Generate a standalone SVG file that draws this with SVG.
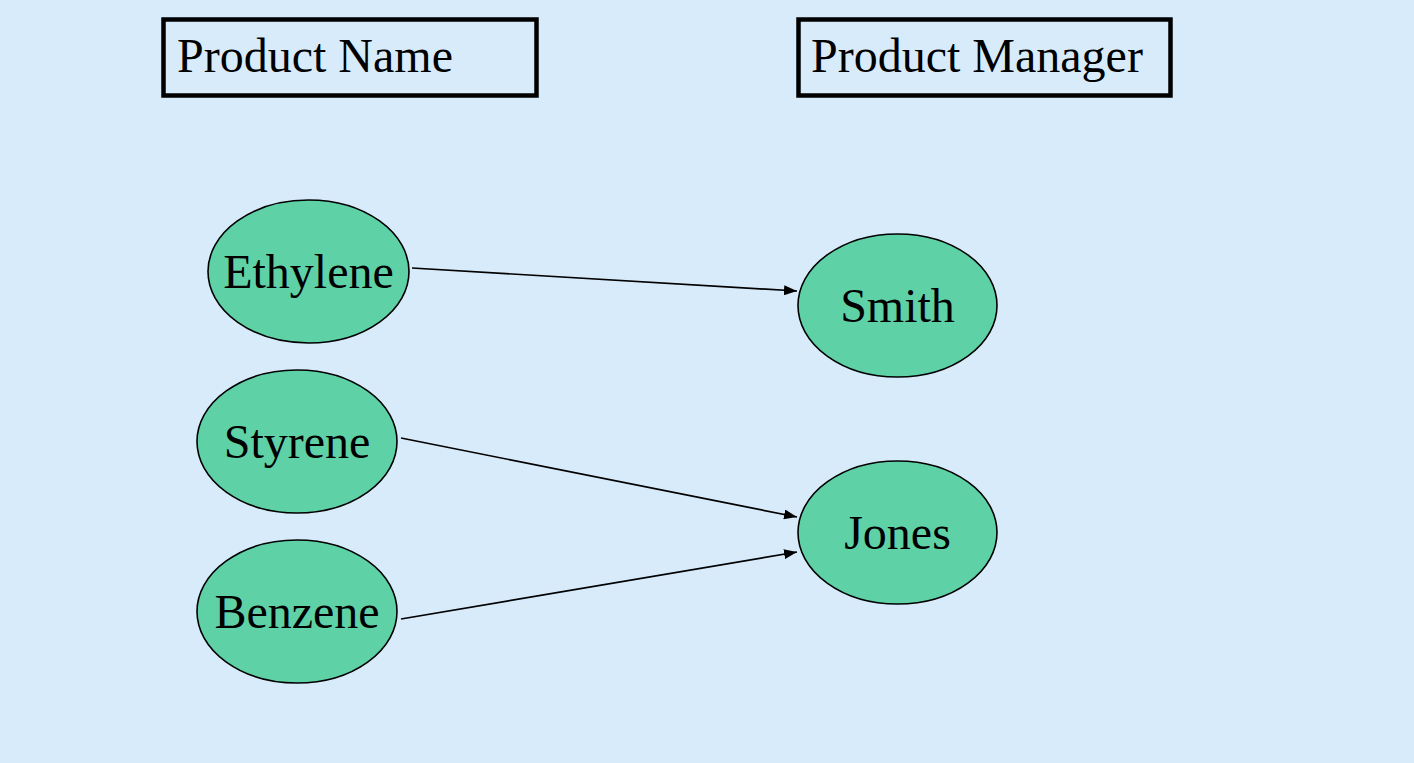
<svg xmlns="http://www.w3.org/2000/svg" width="1414" height="763" viewBox="0 0 1414 763">
  <style>
    .hdr { fill: none; stroke: #000; stroke-width: 4.5; }
    .node { fill: #5fd1a7; stroke: #000; stroke-width: 1.6; }
    .t { font-family: "Liberation Serif", "Times New Roman", serif; font-size: 48px; fill: #000; }
    .c { text-anchor: middle; }
    .edge { stroke: #000; stroke-width: 1.7; fill: none; marker-end: url(#arr); }
  </style>
  <defs>
    <marker id="arr" viewBox="0 0 13 10" refX="13" refY="5" markerWidth="13" markerHeight="10" markerUnits="userSpaceOnUse" orient="auto">
      <path d="M0,0 L13,5 L0,10 Z" fill="#000"/>
    </marker>
  </defs>
  <rect x="0" y="0" width="1414" height="763" fill="#d7ebfb"/>
  <g id="header-product-name">
    <rect class="hdr" x="163.5" y="19.5" width="373" height="76"/>
    <text class="t" x="177" y="72">Product Name</text>
  </g>
  <g id="header-product-manager">
    <rect class="hdr" x="798.5" y="19.5" width="372" height="76"/>
    <text class="t" x="811" y="72">Product Manager</text>
  </g>
  <g id="connectors">
    <line class="edge" x1="412" y1="268" x2="797" y2="291"/>
    <line class="edge" x1="401" y1="438" x2="797" y2="517"/>
    <line class="edge" x1="401" y1="619" x2="797" y2="552"/>
  </g>
  <g id="ethylene">
    <ellipse class="node" cx="308.5" cy="271.5" rx="100.5" ry="71.5"/>
    <text class="t c" x="308.5" y="288">Ethylene</text>
  </g>
  <g id="styrene">
    <ellipse class="node" cx="297" cy="441.5" rx="100" ry="71.5"/>
    <text class="t c" x="297" y="458">Styrene</text>
  </g>
  <g id="benzene">
    <ellipse class="node" cx="297" cy="611.5" rx="100" ry="71.5"/>
    <text class="t c" x="297" y="628">Benzene</text>
  </g>
  <g id="smith">
    <ellipse class="node" cx="897.5" cy="305.5" rx="99.5" ry="71.5"/>
    <text class="t c" x="897.5" y="322">Smith</text>
  </g>
  <g id="jones">
    <ellipse class="node" cx="897.5" cy="532.5" rx="99.5" ry="71.5"/>
    <text class="t c" x="897.5" y="549">Jones</text>
  </g>
</svg>
